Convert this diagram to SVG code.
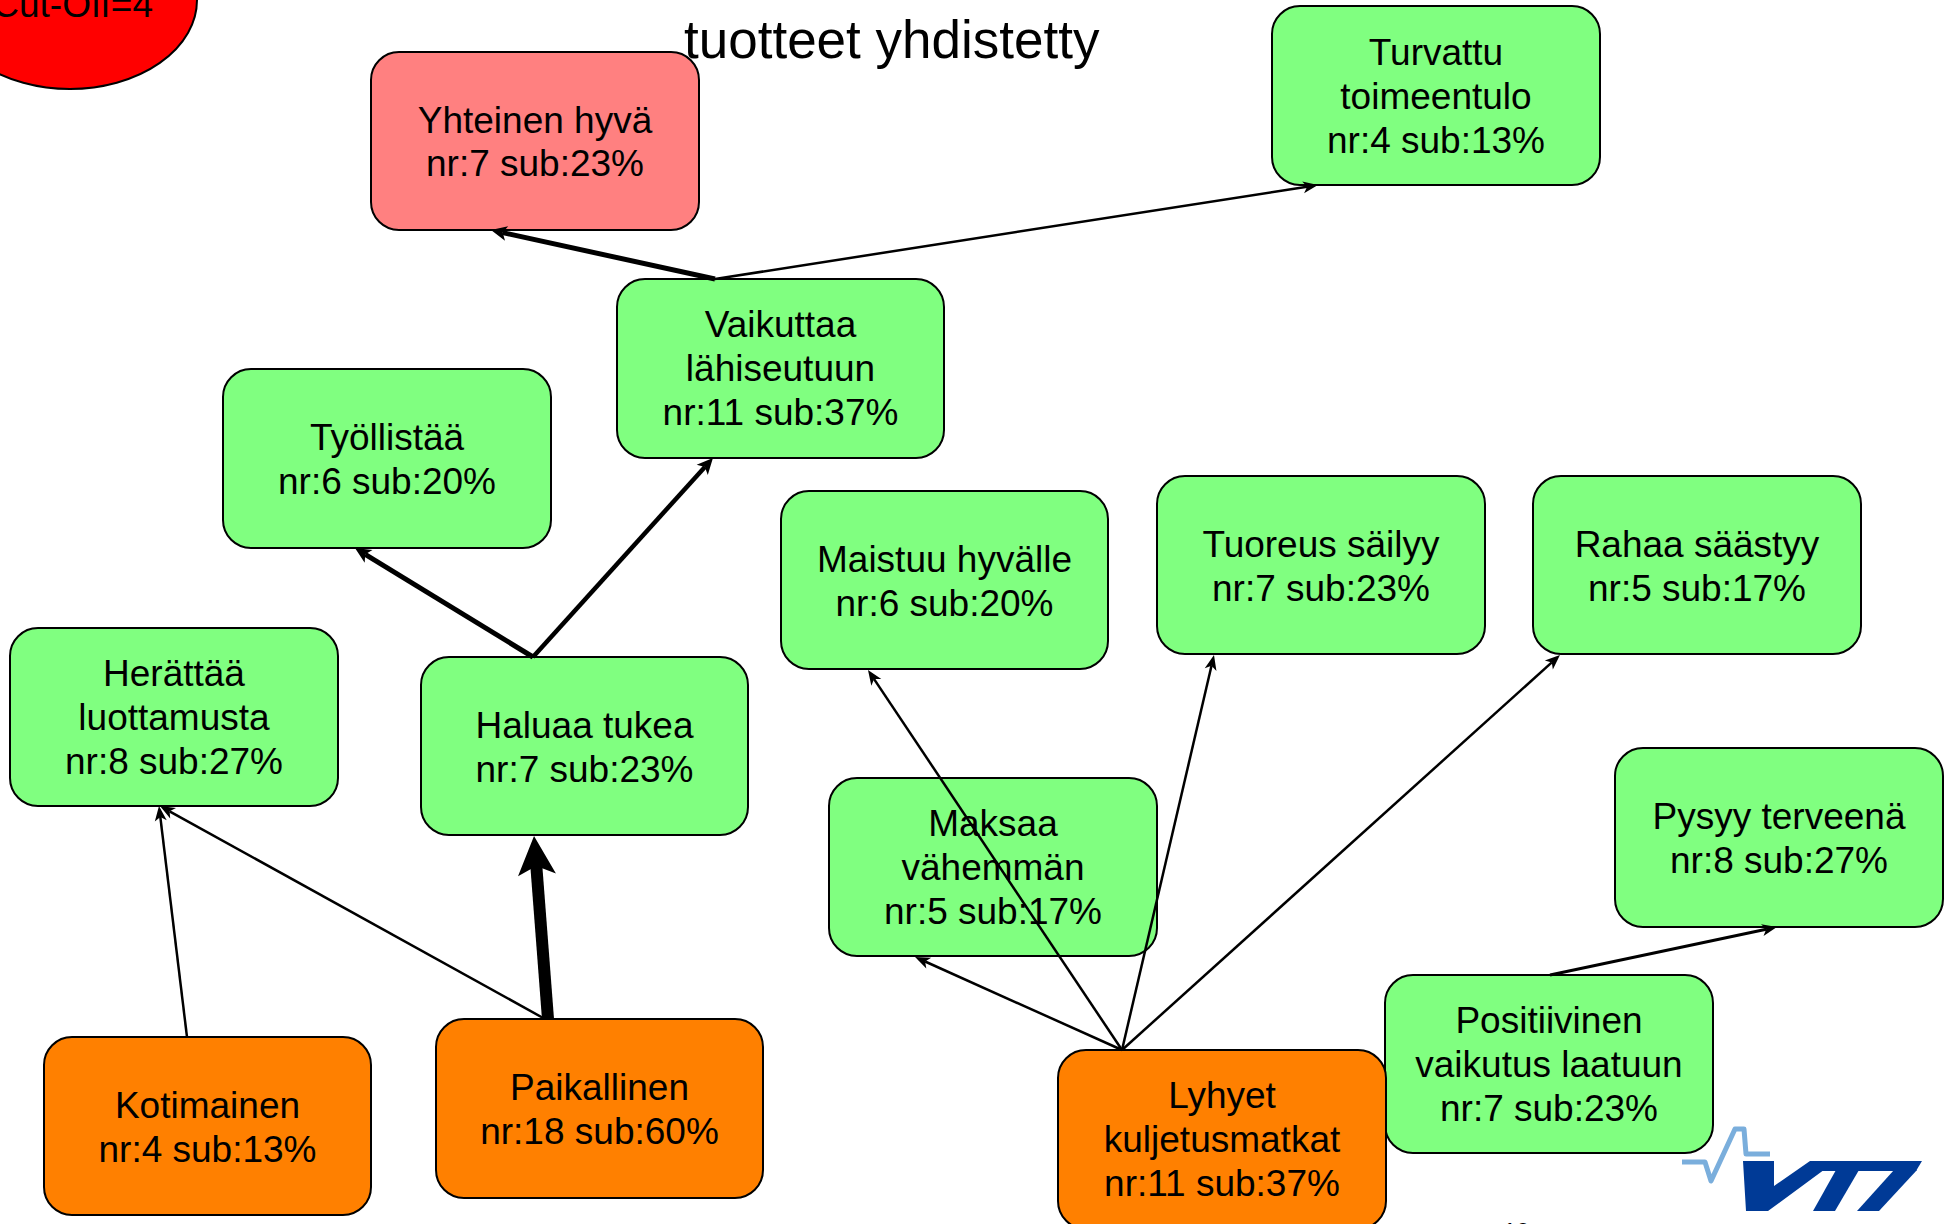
<svg xmlns="http://www.w3.org/2000/svg" width="1953" height="1224" viewBox="0 0 1953 1224">
<style>
.box{stroke:#000;stroke-width:2}
.g{fill:#80ff80}
.p{fill:#ff8080}
.o{fill:#ff8000}
.t{font-family:"Liberation Sans",Arial,sans-serif;font-size:37px;fill:#000;text-anchor:middle}
.e{fill:none;stroke:#000;stroke-linecap:butt}
</style>
<defs>
<marker id="aS" markerUnits="userSpaceOnUse" viewBox="-6 -8 20 16" markerWidth="20" markerHeight="16" refX="0" refY="0" orient="auto">
<path d="M11,0 L-4,-6 L0,0 L-4,6 Z" fill="#000"/>
</marker>
<marker id="aM" markerUnits="userSpaceOnUse" viewBox="-6 -10 22 20" markerWidth="22" markerHeight="20" refX="0" refY="0" orient="auto">
<path d="M12,0 L-4,-7.5 L0,0 L-4,7.5 Z" fill="#000"/>
</marker>
<marker id="aL" markerUnits="userSpaceOnUse" viewBox="-10 -22 42 44" markerWidth="42" markerHeight="44" refX="0" refY="0" orient="auto">
<path d="M30,0 L-9,-19 L0,0 L-9,19 Z" fill="#000"/>
</marker>
</defs>
<rect width="1953" height="1224" fill="#fff"/>

<g id="cutoff">
<ellipse cx="70" cy="0" rx="127" ry="89" fill="#ff0000" stroke="#000" stroke-width="2"/>
<text x="153" y="17" class="t" style="text-anchor:end">Cut-Off=4</text>
</g>

<g id="title">
<text x="684" y="58" style="font-family:'Liberation Sans',Arial,sans-serif;font-size:53px;fill:#000">tuotteet yhdistetty</text>
</g>

<g id="node-yhteinen">
<rect class="box p" x="371" y="52" width="328" height="178" rx="28"/>
<text class="t" x="535" y="133">Yhteinen hyvä</text>
<text class="t" x="535" y="176">nr:7 sub:23%</text>
</g>

<g id="node-turvattu">
<rect class="box g" x="1272" y="6" width="328" height="179" rx="28"/>
<text class="t" x="1436" y="65">Turvattu</text>
<text class="t" x="1436" y="109">toimeentulo</text>
<text class="t" x="1436" y="153">nr:4 sub:13%</text>
</g>

<g id="node-vaikuttaa">
<rect class="box g" x="617" y="279" width="327" height="179" rx="28"/>
<text class="t" x="780.5" y="337">Vaikuttaa</text>
<text class="t" x="780.5" y="381">lähiseutuun</text>
<text class="t" x="780.5" y="425">nr:11 sub:37%</text>
</g>

<g id="node-tyollistaa">
<rect class="box g" x="223" y="369" width="328" height="179" rx="28"/>
<text class="t" x="387" y="450">Työllistää</text>
<text class="t" x="387" y="494">nr:6 sub:20%</text>
</g>

<g id="node-herattaa">
<rect class="box g" x="10" y="628" width="328" height="178" rx="28"/>
<text class="t" x="174" y="686">Herättää</text>
<text class="t" x="174" y="730">luottamusta</text>
<text class="t" x="174" y="774">nr:8 sub:27%</text>
</g>

<g id="node-haluaa">
<rect class="box g" x="421" y="657" width="327" height="178" rx="28"/>
<text class="t" x="584.5" y="738">Haluaa tukea</text>
<text class="t" x="584.5" y="782">nr:7 sub:23%</text>
</g>

<g id="node-kotimainen">
<rect class="box o" x="44" y="1037" width="327" height="178" rx="28"/>
<text class="t" x="207.5" y="1118">Kotimainen</text>
<text class="t" x="207.5" y="1162">nr:4 sub:13%</text>
</g>

<g id="node-paikallinen">
<rect class="box o" x="436" y="1019" width="327" height="179" rx="28"/>
<text class="t" x="599.5" y="1100">Paikallinen</text>
<text class="t" x="599.5" y="1144">nr:18 sub:60%</text>
</g>

<g id="node-maistuu">
<rect class="box g" x="781" y="491" width="327" height="178" rx="28"/>
<text class="t" x="944.5" y="572">Maistuu hyvälle</text>
<text class="t" x="944.5" y="616">nr:6 sub:20%</text>
</g>

<g id="node-tuoreus">
<rect class="box g" x="1157" y="476" width="328" height="178" rx="28"/>
<text class="t" x="1321" y="557">Tuoreus säilyy</text>
<text class="t" x="1321" y="601">nr:7 sub:23%</text>
</g>

<g id="node-rahaa">
<rect class="box g" x="1533" y="476" width="328" height="178" rx="28"/>
<text class="t" x="1697" y="557">Rahaa säästyy</text>
<text class="t" x="1697" y="601">nr:5 sub:17%</text>
</g>

<g id="node-maksaa">
<rect class="box g" x="829" y="778" width="328" height="178" rx="28"/>
<text class="t" x="993" y="836">Maksaa</text>
<text class="t" x="993" y="880">vähemmän</text>
<text class="t" x="993" y="924">nr:5 sub:17%</text>
</g>

<g id="node-pysyy">
<rect class="box g" x="1615" y="748" width="328" height="179" rx="28"/>
<text class="t" x="1779" y="829">Pysyy terveenä</text>
<text class="t" x="1779" y="873">nr:8 sub:27%</text>
</g>

<g id="node-positiivinen">
<rect class="box g" x="1385" y="975" width="328" height="178" rx="28"/>
<text class="t" x="1549" y="1033">Positiivinen</text>
<text class="t" x="1549" y="1077">vaikutus laatuun</text>
<text class="t" x="1549" y="1121">nr:7 sub:23%</text>
</g>

<g id="node-lyhyet">
<rect class="box o" x="1058" y="1050" width="328" height="179" rx="28"/>
<text class="t" x="1222" y="1108">Lyhyet</text>
<text class="t" x="1222" y="1152">kuljetusmatkat</text>
<text class="t" x="1222" y="1196">nr:11 sub:37%</text>
</g>

<g id="connectors">
<path class="e" d="M715,279 L502.7,232.6" stroke-width="5" marker-end="url(#aM)"/>
<path class="e" d="M715,279 L1307.1,186.7" stroke-width="2.5" marker-end="url(#aS)"/>
<path class="e" d="M533,657 L365.2,554.3" stroke-width="5" marker-end="url(#aM)"/>
<path class="e" d="M533,657 L704.9,466.9" stroke-width="4.5" marker-end="url(#aM)"/>
<path class="e" d="M548,1019 L536.3,865.9" stroke-width="12" marker-end="url(#aL)"/>
<path class="e" d="M545,1019 L169.6,811.3" stroke-width="2.5" marker-end="url(#aS)"/>
<path class="e" d="M187,1037 L160.3,816.9" stroke-width="2.5" marker-end="url(#aS)"/>
<path class="e" d="M1122,1050 L925.1,961.5" stroke-width="2.5" marker-end="url(#aS)"/>
<path class="e" d="M1122,1050 L874.1,679.1" stroke-width="2.5" marker-end="url(#aS)"/>
<path class="e" d="M1122,1050 L1211.5,665.7" stroke-width="2.5" marker-end="url(#aS)"/>
<path class="e" d="M1122,1050 L1551.8,662.4" stroke-width="2.5" marker-end="url(#aS)"/>
<path class="e" d="M1550,975 L1766.2,929.2" stroke-width="3" marker-end="url(#aS)"/>
</g>

<g id="vtt-logo">
<path d="M1682,1162 H1705 L1711,1181 L1735,1129 H1744 L1746,1154 H1770" fill="none" stroke="#7aaedc" stroke-width="5" stroke-linejoin="round"/>
<polygon points="1743,1161 1774,1161 1774,1186 1810,1161 1836,1161 1768,1211 1746,1211" fill="#003a96"/>
<polygon points="1814,1161 1922,1161 1916,1171 1812,1171" fill="#003a96"/>
<polygon points="1836,1170 1859,1170 1835,1211 1813,1211" fill="#003a96"/>
<polygon points="1894,1170 1917,1170 1879,1211 1857,1211" fill="#003a96"/>
</g>

<g id="page-number">
<text x="1503" y="1240" style="font-family:'Liberation Sans',Arial,sans-serif;font-size:24px;fill:#000">10</text>
</g>
</svg>
